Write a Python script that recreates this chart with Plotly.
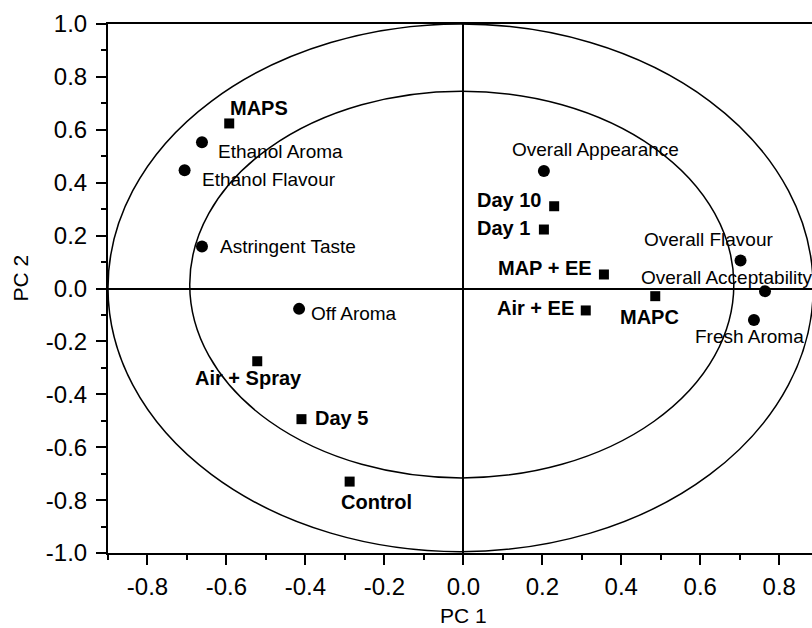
import plotly.graph_objects as go

# Attribute loadings (circles)
attr_names = ["Ethanol Aroma", "Ethanol Flavour", "Astringent Taste", "Off Aroma",
              "Overall Appearance", "Overall Flavour", "Overall Acceptability", "Fresh Aroma"]
attr_pc1 = [-0.662, -0.706, -0.662, -0.416, 0.204, 0.702, 0.764, 0.736]
attr_pc2 = [0.553, 0.447, 0.159, -0.077, 0.444, 0.106, -0.010, -0.119]

# Sample scores (squares)
samp_names = ["MAPS", "Day 10", "Day 1", "MAP + EE", "Air + EE", "MAPC",
              "Air + Spray", "Day 5", "Control"]
samp_pc1 = [-0.593, 0.230, 0.204, 0.356, 0.310, 0.486, -0.522, -0.410, -0.288]
samp_pc2 = [0.624, 0.311, 0.223, 0.053, -0.083, -0.029, -0.275, -0.494, -0.730]

# Correlation ellipses: [x0, x1, y0, y1]
outer_ellipse = [-0.900, 0.886, -0.995, 1.000]
inner_ellipse = [-0.693, 0.685, -0.716, 0.746]

x_ticks = [-0.8, -0.6, -0.4, -0.2, 0.0, 0.2, 0.4, 0.6, 0.8]
y_ticks = [-1.0, -0.8, -0.6, -0.4, -0.2, 0.0, 0.2, 0.4, 0.6, 0.8, 1.0]

# label placement (anchor, xshift px, yshift px)
attr_lab = [("left", 14, -9), ("left", 15, -9), ("left", 16, 0), ("left", 10, -5),
            ("center", 52, 22), ("center", -32, 21), ("center", -38, 14), ("center", -4, -17)]
samp_lab = [("left", -1, 15), ("right", -10, 6), ("right", -12, 2), ("right", -10, 6),
            ("right", -10, 2), ("center", -6, -21), ("center", -9, -17), ("left", 12, 1),
            ("center", 27, -20)]

FONT = "Liberation Sans, Arial, Helvetica, sans-serif"

fig = go.Figure()
fig.add_trace(go.Scatter(x=attr_pc1, y=attr_pc2, mode="markers",
                         marker=dict(symbol="circle", size=12, color="black"),
                         hoverinfo="text", text=attr_names, showlegend=False))
fig.add_trace(go.Scatter(x=samp_pc1, y=samp_pc2, mode="markers",
                         marker=dict(symbol="square", size=10, color="black"),
                         hoverinfo="text", text=samp_names, showlegend=False))

for e in (outer_ellipse, inner_ellipse):
    fig.add_shape(type="circle", xref="x", yref="y", x0=e[0], x1=e[1], y0=e[2], y1=e[3],
                  line=dict(color="black", width=1.5), layer="above")

anns = []
for n, x, y, (anc, dx, dy) in zip(attr_names, attr_pc1, attr_pc2, attr_lab):
    anns.append(dict(x=x, y=y, xref="x", yref="y", text=n, showarrow=False,
                     xanchor=anc, yanchor="middle", xshift=dx, yshift=dy,
                     font=dict(family=FONT, size=19, color="black")))
for n, x, y, (anc, dx, dy) in zip(samp_names, samp_pc1, samp_pc2, samp_lab):
    anns.append(dict(x=x, y=y, xref="x", yref="y", text="<b>" + n + "</b>", showarrow=False,
                     xanchor=anc, yanchor="middle", xshift=dx, yshift=dy,
                     font=dict(family=FONT, size=20, color="black")))
anns.append(dict(x=0, y=0, xref="x", yref="paper", text="PC 1", showarrow=False,
                 xanchor="center", yanchor="middle", yshift=-62,
                 font=dict(family=FONT, size=21, color="black")))
anns.append(dict(x=0, y=0, xref="paper", yref="y", text="PC 2", showarrow=False,
                 xanchor="center", yanchor="middle", xshift=-88, yshift=10, textangle=-90,
                 font=dict(family=FONT, size=21, color="black")))

fig.update_layout(
    width=812, height=628,
    margin=dict(l=108, r=0, t=24, b=75, pad=0),
    paper_bgcolor="white", plot_bgcolor="white",
    annotations=anns,
    font=dict(family=FONT, color="black"),
    xaxis=dict(range=[-0.9, 0.883], tickvals=x_ticks, ticktext=[f"{v:.1f}" for v in x_ticks],
               ticks="outside", ticklen=10, tickwidth=2, tickcolor="black",
               minor=dict(dtick=0.1, tick0=0, ticks="outside", ticklen=5, tickwidth=2, tickcolor="black"),
               showline=True, linecolor="black", linewidth=2, mirror=True,
               showgrid=False, zeroline=True, zerolinecolor="black", zerolinewidth=1.5,
               tickfont=dict(family=FONT, size=24, color="black"), ticklabelstandoff=1),
    yaxis=dict(range=[-1.0, 1.0], tickvals=y_ticks, ticktext=[f"{v:.1f}" for v in y_ticks],
               ticks="outside", ticklen=10, tickwidth=2, tickcolor="black",
               minor=dict(dtick=0.1, tick0=0, ticks="outside", ticklen=5, tickwidth=2, tickcolor="black"),
               showline=True, linecolor="black", linewidth=2, mirror=False,
               showgrid=False, zeroline=True, zerolinecolor="black", zerolinewidth=1.5,
               tickfont=dict(family=FONT, size=24, color="black"), ticklabelstandoff=4),
)

fig.write_html("out.html")
